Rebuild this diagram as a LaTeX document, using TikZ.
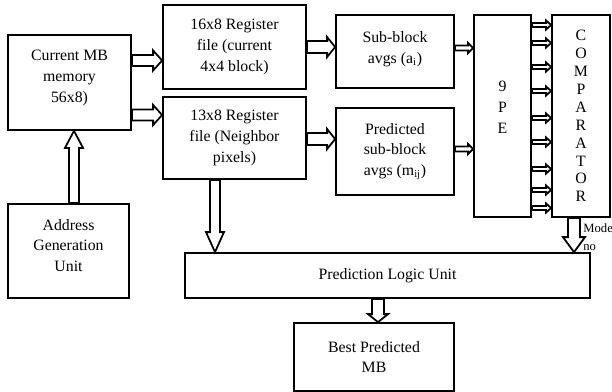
\documentclass[tikz,border=0pt]{standalone}
\usepackage{fontspec}
\setmainfont{Liberation Serif}
\usetikzlibrary{calc}
\newdimen\px
\px=0.02cm
\tikzset{
	box/.style={draw, line width=1pt, align=center, inner sep=2pt, font=\fontsize{9}{11.9}\selectfont},
	rfat/.style n args={3}{to path={let \p1=(\tikztostart), \p2=(\tikztotarget) in
		(\x1,{\y1+#1}) -- ({\x2-#3},{\y1+#1}) -- ({\x2-#3},{\y1+#2}) -- (\x2,\y1)
		-- ({\x2-#3},{\y1-#2}) -- ({\x2-#3},{\y1-#1}) -- (\x1,{\y1-#1}) -- cycle}},
	dfat/.style n args={3}{to path={let \p1=(\tikztostart), \p2=(\tikztotarget) in
		({\x1-#1},\y1) -- ({\x1-#1},{\y2+#3}) -- ({\x1-#2},{\y2+#3}) -- (\x1,\y2)
		-- ({\x1+#2},{\y2+#3}) -- ({\x1+#1},{\y2+#3}) -- ({\x1+#1},\y1) -- cycle}},
	ufat/.style n args={3}{to path={let \p1=(\tikztostart), \p2=(\tikztotarget) in
		({\x1-#1},\y1) -- ({\x1-#1},{\y2-#3}) -- ({\x1-#2},{\y2-#3}) -- (\x1,\y2)
		-- ({\x1+#2},{\y2-#3}) -- ({\x1+#1},{\y2-#3}) -- ({\x1+#1},\y1) -- cycle}},
	fat/.style={draw, line width=1pt, fill=white}
}
\begin{document}
\begin{tikzpicture}[x=0.02cm, y=-0.02cm]
	\useasboundingbox (0,0) rectangle (612,392);
	\node [box, minimum width=123\px, minimum height=95\px, text depth=12\px] (mem) at(69.5,82.5) {Current MB\\memory\\56x8)};
	\node [box, minimum width=121\px, minimum height=94\px, text depth=11\px] (agu) at(68.5,251) {Address\\Generation\\Unit};
	\node [box, minimum width=143\px, minimum height=84\px] (reg16) at(234.5,47) {16x8 Register\\file (current\\4x4 block)};
	\node [box, minimum width=143\px, minimum height=82\px] (reg13) at(234.5,138) {13x8 Register\\file (Neighbor\\pixels)};
	\node [box, minimum width=118\px, minimum height=73\px, text depth=8\px] (subavg) at(395,51.5) {Sub-block\\avgs (a\textsubscript{i})};
	\node [box, minimum width=118\px, minimum height=87\px] (predavg) at(395,151.5) {Predicted\\sub-block\\avgs (m\textsubscript{ij})};
	\node [box, minimum width=57\px, minimum height=202\px, text depth=17\px] (pe) at(502.5,116) {9\\P\\E};
	\node [box, minimum width=58\px, minimum height=202\px, font=\fontsize{9}{10.2}\selectfont] (comp) at(581,116) {C\\O\\M\\P\\A\\R\\A\\T\\O\\R};
	\node [box, minimum width=405\px, minimum height=45\px] (plu) at(387.5,275.5) {Prediction Logic Unit};
	\node [box, minimum width=160\px, minimum height=68\px] (best) at(374,357) {Best Predicted\\MB};
	\draw [fat, rfat={5.5\px}{10\px}{9\px}] ([yshift=22\px]mem.east) to (reg16.west);
	\draw [fat, rfat={5.5\px}{10\px}{9\px}] ([yshift=-32.5\px]mem.east) to (reg13.west);
	\draw [fat, ufat={5\px}{9\px}{17\px}] ([xshift=5.5\px]agu.north) to (mem.south);
	\draw [fat, rfat={6\px}{10\px}{8\px}] (reg16.east) to (subavg.west);
	\draw [fat, rfat={6\px}{10\px}{8\px}] ([yshift=-1\px]reg13.east) to (predavg.west);
	\draw [fat, rfat={2.5\px}{5\px}{5\px}] ([yshift=3.5\px]subavg.east) to (pe.west);
	\draw [fat, rfat={2.5\px}{5\px}{5\px}] ([yshift=2.5\px]predavg.east) to (pe.west);
	\foreach \y in {25,43,67,91,118,142,169,190,208}
		\draw [fat, rfat={2\px}{4.5\px}{5\px}] ([yshift={(116-\y)*\px}]pe.east) to (comp.west);
	\draw [fat, dfat={5\px}{9\px}{20\px}] ([xshift=-19.5\px]reg13.south) to (plu.north);
	\draw [fat, dfat={6\px}{11\px}{15\px}] ([xshift=-7\px]comp.south) to (plu.north);
	\draw [fat, dfat={6\px}{10\px}{8\px}] ([xshift=-9.5\px]plu.south) to (best.north);
	\node [anchor=north west, align=left, inner sep=0pt, font=\fontsize{7.2}{10.2}\selectfont] (mode) at(583,223) {Mode\\no};
\end{tikzpicture}
\end{document}
